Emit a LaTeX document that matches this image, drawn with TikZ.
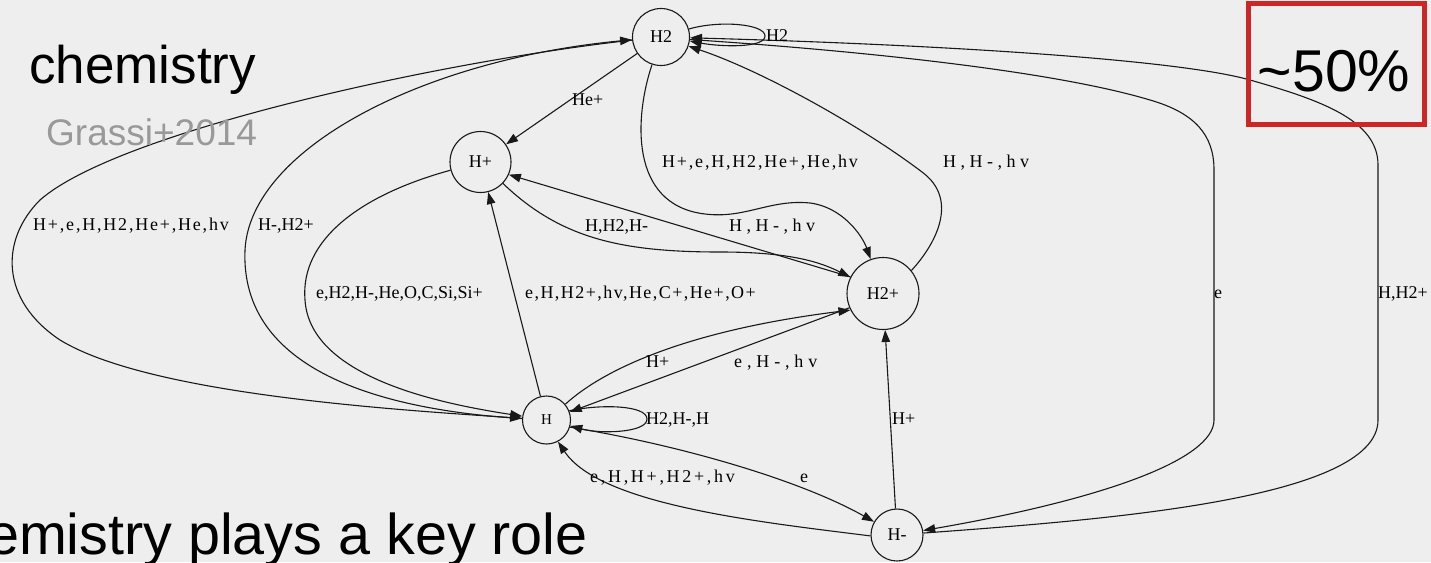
\documentclass[tikz,border=0pt]{standalone}
\usepackage{fontspec}
\setmainfont{Liberation Serif}
\newfontfamily\slidefont{Liberation Sans}
\usetikzlibrary{arrows.meta}
\definecolor{bg}{RGB}{238,238,238}
\definecolor{edgecol}{RGB}{25,25,25}
\definecolor{boxred}{RGB}{204,38,38}
\definecolor{refgray}{RGB}{153,153,153}

\begin{document}
\begin{tikzpicture}[x=1pt,y=-1pt,
  species/.style={circle,draw=edgecol,line width=1.1pt,inner sep=0pt,
    font=\fontsize{18}{20}\selectfont},
  rxn/.style={draw=edgecol,line width=1.1pt,-{Triangle[length=12pt,width=8.5pt]}},
  lbl/.style={anchor=base west,inner sep=0pt,font=\fontsize{18}{20}\selectfont},
  lblw/.style={anchor=base west,inner sep=0pt,
    font=\fontsize{18}{20}\selectfont\addfontfeatures{LetterSpace=#1}},
  slide/.style={inner sep=0pt,font=\slidefont\fontsize{#1}{#1}\selectfont},
]
\useasboundingbox (0,0) rectangle (1431,562);
\fill[bg] (0,0) rectangle (1431,562);

% species
\node[species,minimum size=57pt] (H2)  at (661,37)    {H2};
\node[species,minimum size=61pt] (Hp)  at (480.5,162) {H+};
\node[species,minimum size=72pt] (H2p) at (883,293.5) {H2+};
\node[species,minimum size=48pt,font=\fontsize{15}{17}\selectfont] (H) at (546.5,420) {H};
\node[species,minimum size=52pt] (Hm)  at (897,535)   {H-};

% reactions
\draw[rxn] (H2.16) .. controls (720,20) and (765,24) .. (765,36)
           .. controls (765,48) and (722,47) .. (H2.-8);
\draw[rxn] (H2) -- (Hp);
\draw[rxn] (H2.-108) .. controls (635,115) and (628,205) .. (705,214)
           .. controls (745,219) and (770,199) .. (810,203)
           .. controls (842,207) and (862,235) .. (H2p);
\draw[rxn] (H2p.39) .. controls (935,245) and (960,200) .. (922,172)
           .. controls (860,125) and (760,70) .. (H2);
\draw[rxn] (H2) .. controls (450,60) and (120,130) .. (40,200)
           .. controls (0,240) and (0,300) .. (60,340)
           .. controls (150,395) and (400,410) .. (H);
\draw[rxn] (H) .. controls (380,410) and (240,370) .. (245,250)
           .. controls (250,150) and (420,60) .. (H2);
\draw[rxn] (Hp) .. controls (360,195) and (300,240) .. (305,300)
           .. controls (310,380) and (450,405) .. (H);
\draw[rxn] (H) -- (Hp);
\draw[rxn] (Hp) .. controls (560,238) and (620,252) .. (720,252)
           .. controls (790,252) and (820,262) .. (H2p);
\draw[rxn] (H2p.153) -- (Hp.-24);
\draw[rxn] (H.40) .. controls (605,368) and (690,330) .. (H2p.-153);
\draw[rxn] (H2p.-157) -- (H.19);
\draw[rxn] (H.22) .. controls (600,404) and (647,405) .. (647,419)
           .. controls (647,433) and (600,434) .. (H.-14);
\draw[rxn] (H.-17) .. controls (680,445) and (800,480) .. (Hm.150);
\draw[rxn] (Hm.182) .. controls (760,522) and (600,505) .. (H.-62);
\draw[rxn] (Hm) -- (H2p);
\draw[rxn] (H2.-5) .. controls (850,50) and (1050,70) .. (1150,100)
           .. controls (1195,113) and (1214,135) .. (1214,170) -- (1214,420)
           .. controls (1214,460) and (1100,500) .. (Hm);
\draw[rxn] (Hm) .. controls (1100,520) and (1378,500) .. (1378,420) -- (1378,165)
           .. controls (1378,120) and (1320,100) .. (1250,80)
           .. controls (1180,60) and (950,45) .. (H2);

% reaction partners
\node[lbl] (lHe)    at (572,105)  {He+};
\node[lbl] (lloop2) at (766,41)   {H2};
\node[lblw=10] (lmid) at (662,167) {H+,e,H,H2,He+,He,hv};
\node[lblw=25] (lright) at (943,167) {H,H-,hv};
\node[lblw=10] (lleft) at (33,230) {H+,e,H,H2,He+,He,hv};
\node[lbl] (lform)  at (258,230)  {H-,H2+};
\node[lbl] (lcharge) at (585,231) {H,H2,H-};
\node[lblw=25] (lback) at (729,231) {H,H-,hv};
\node[lbl] (lrec)   at (316,298)  {e,H2,H-,He,O,C,Si,Si+};
\node[lblw=8] (lion) at (525,298) {e,H,H2+,hv,He,C+,He+,O+};
\node[lbl] (lattach) at (1214,298) {e};
\node[lbl] (ldet)   at (1378,298) {H,H2+};
\node[lbl] (lrad)   at (646,367)  {H+};
\node[lblw=27] (ldis) at (734,367) {e,H-,hv};
\node[lbl] (lloop1) at (646,424)  {H2,H-,H};
\node[lbl] (lmut)   at (892,424)  {H+};
\node[lblw=15] (ldest) at (590,482) {e,H,H+,H2+,hv};
\node[lbl] (lelec)  at (800,482)  {e};

% slide text
\node[slide=53,anchor=base west] (title) at (29,83) {chemistry};
\node[slide=37,anchor=base west,text=refgray] (cite) at (46,145) {Grassi+2014};
\node[draw=boxred,line width=5pt,minimum width=176pt,minimum height=121pt,inner sep=0pt]
  (frac) at (1336.4,64.1) {};
\node[slide=59,anchor=base] (pct) at (1334,91) {\textasciitilde 50\%};
\node[slide=57.5,anchor=base east] (claim) at (588,554) {emistry plays a key role};
\end{tikzpicture}
\end{document}
